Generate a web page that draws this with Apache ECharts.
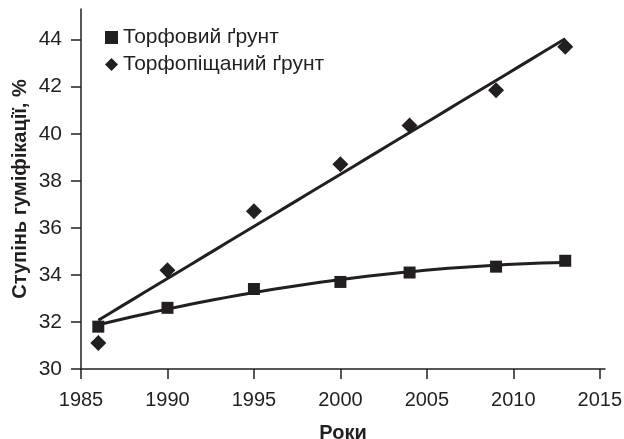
<!DOCTYPE html>
<html>
<head>
<meta charset="utf-8">
<script src="https://cdn.jsdelivr.net/npm/echarts@6/dist/echarts.min.js"></script>
<style>
  html, body { margin: 0; padding: 0; background: #fff; }
  #main { width: 624px; height: 439px; }
</style>
</head>
<body>
<div id="main"></div>
<script>
// data
const years = [1986, 1990, 1995, 2000, 2004, 2009, 2013];
const peatSoil = [31.8, 32.6, 33.4, 33.7, 34.1, 34.35, 34.6];      // Торфовий ґрунт
const peatSandSoil = [31.1, 34.2, 36.7, 38.7, 40.35, 41.85, 43.7]; // Торфопіщаний ґрунт
const yTicks = [30, 32, 34, 36, 38, 40, 42, 44];
const xTicks = [1985, 1990, 1995, 2000, 2005, 2010, 2015];

const ink = '#231f20';
const font = 'Liberation Sans, Arial, sans-serif';

// least squares fit of given degree (trend lines, like the spreadsheet ones)
function polyFit(xs, ys, deg) {
  const x0 = xs[0];
  const n = deg + 1;
  const A = [];
  for (let i = 0; i < n; i++) {
    A.push(new Array(n + 1).fill(0));
  }
  xs.forEach((x, k) => {
    const t = x - x0;
    for (let i = 0; i < n; i++) {
      for (let j = 0; j < n; j++) A[i][j] += Math.pow(t, i + j);
      A[i][n] += ys[k] * Math.pow(t, i);
    }
  });
  for (let i = 0; i < n; i++) {
    for (let r = i + 1; r < n; r++) {
      const f = A[r][i] / A[i][i];
      for (let c = i; c <= n; c++) A[r][c] -= f * A[i][c];
    }
  }
  const coef = new Array(n).fill(0);
  for (let i = n - 1; i >= 0; i--) {
    let s = A[i][n];
    for (let j = i + 1; j < n; j++) s -= A[i][j] * coef[j];
    coef[i] = s / A[i][i];
  }
  return x => coef.reduce((acc, c, i) => acc + c * Math.pow(x - x0, i), 0);
}

function trend(xs, ys, deg) {
  const f = polyFit(xs, ys, deg);
  const pts = [];
  const a = xs[0], b = xs[xs.length - 1];
  for (let i = 0; i <= 40; i++) {
    const x = a + (b - a) * i / 40;
    pts.push([x, f(x)]);
  }
  return pts;
}

const myChart = echarts.init(document.getElementById('main'));

const option = {
  animation: false,
  grid: { left: 81, right: 19, top: 9, bottom: 70, containLabel: false, outerBoundsMode: 'none' },
  legend: {
    orient: 'vertical',
    left: 100,
    top: 22,
    itemWidth: 13,
    itemHeight: 13,
    itemGap: 6,
    textStyle: { fontSize: 21, fontFamily: font, color: ink },
    data: [
      { name: 'Торфовий ґрунт', icon: 'rect' },
      { name: 'Торфопіщаний ґрунт', icon: 'diamond' }
    ]
  },
  xAxis: {
    type: 'value',
    min: 1985,
    max: 2015.3,
    name: 'Роки',
    nameLocation: 'middle',
    nameGap: 54,
    nameTextStyle: { fontSize: 20, fontWeight: 'bold', fontFamily: font, color: ink },
    axisLine: { onZero: false, lineStyle: { color: ink, width: 1.5 } },
    axisTick: { show: true, length: 10, customValues: xTicks, lineStyle: { color: ink, width: 1.5 } },
    axisLabel: { fontSize: 20, fontFamily: font, color: ink, margin: 21, customValues: xTicks, formatter: v => String(v) },
    splitLine: { show: false }
  },
  yAxis: {
    type: 'value',
    min: 30,
    max: 45.3,
    name: 'Ступінь гуміфікації, %',
    nameLocation: 'middle',
    nameGap: 51,
    nameMoveOverlap: false,
    nameTextStyle: { fontSize: 20, fontWeight: 'bold', fontFamily: font, color: ink },
    axisLine: { show: true, onZero: false, lineStyle: { color: ink, width: 1.5 } },
    axisTick: { show: true, length: 10, customValues: yTicks, lineStyle: { color: ink, width: 1.5 } },
    axisLabel: { fontSize: 21, fontFamily: font, color: ink, margin: 19, customValues: yTicks },
    splitLine: { show: false }
  },
  series: [
    {
      name: 'Торфовий ґрунт',
      type: 'scatter',
      symbol: 'rect',
      symbolSize: 12,
      itemStyle: { color: ink, opacity: 1 },
      data: years.map((y, i) => [y, peatSoil[i]]),
      z: 3
    },
    {
      name: 'Торфопіщаний ґрунт',
      type: 'scatter',
      symbol: 'diamond',
      symbolSize: 16,
      itemStyle: { color: ink, opacity: 1 },
      data: years.map((y, i) => [y, peatSandSoil[i]]),
      z: 3
    },
    {
      name: 'trend1',
      type: 'line',
      showSymbol: false,
      symbol: 'none',
      lineStyle: { color: ink, width: 3 },
      data: trend(years, peatSoil, 2),
      z: 2
    },
    {
      name: 'trend2',
      type: 'line',
      showSymbol: false,
      symbol: 'none',
      lineStyle: { color: ink, width: 3 },
      data: trend(years, peatSandSoil, 1),
      z: 2
    }
  ]
};

myChart.setOption(option);
</script>
</body>
</html>
